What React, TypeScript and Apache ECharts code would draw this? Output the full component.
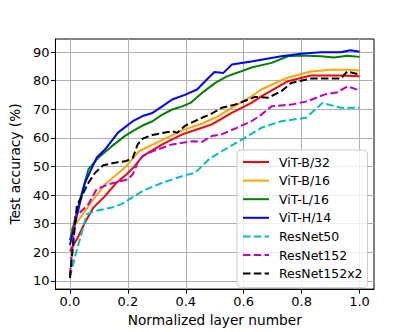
import React, { useEffect, useRef } from "react";
import * as echarts from "echarts";

const seriesNames = ["ViT-B/32", "ViT-B/16", "ViT-L/16", "ViT-H/14", "ResNet50", "ResNet152", "ResNet152x2"];

const vitB32X = [0, 0.024, 0.052, 0.081, 0.121, 0.161, 0.195, 0.223, 0.251, 0.319, 0.388, 0.456, 0.49, 0.559, 0.627, 0.661, 0.753, 0.832, 0.935, 1.0];
const vitB32Y = [20.3, 24.5, 30.4, 35.6, 39.6, 44.3, 47.2, 50.0, 53.6, 57.7, 61.2, 63.5, 64.7, 68.7, 72.2, 74.5, 79.8, 81.8, 81.8, 81.5];

const vitB16X = [0, 0.041, 0.081, 0.121, 0.161, 0.189, 0.239, 0.319, 0.388, 0.456, 0.502, 0.559, 0.627, 0.661, 0.747, 0.832, 0.901, 0.958, 1.0];
const vitB16Y = [27.5, 32.7, 38.5, 43.7, 47.2, 49.5, 55.3, 59.3, 62.6, 65.0, 67.0, 70.5, 74.5, 76.9, 80.9, 83.2, 83.8, 83.8, 83.5];

const vitL16X = [0, 0.035, 0.064, 0.098, 0.144, 0.189, 0.217, 0.251, 0.285, 0.319, 0.353, 0.388, 0.416, 0.456, 0.502, 0.542, 0.582, 0.627, 0.696, 0.753, 0.798, 0.867, 0.912, 0.958, 1.0];
const vitL16Y = [24.3, 38.5, 49.0, 53.0, 57.0, 60.6, 62.3, 64.3, 65.8, 68.1, 69.9, 71.0, 72.2, 75.7, 79.2, 81.5, 82.9, 84.6, 86.2, 88.5, 88.8, 88.5, 88.1, 88.7, 88.3];

const vitH14X = [0, 0.035, 0.052, 0.092, 0.121, 0.166, 0.217, 0.251, 0.285, 0.319, 0.353, 0.399, 0.439, 0.467, 0.499, 0.53, 0.559, 0.627, 0.661, 0.73, 0.798, 0.867, 0.935, 0.969, 1.0];
const vitH14Y = [22.5, 37.4, 44.3, 53.0, 55.9, 61.8, 65.8, 67.6, 68.7, 71.0, 73.4, 75.1, 76.9, 79.8, 83.0, 82.7, 85.6, 86.7, 87.3, 88.5, 89.4, 89.9, 89.9, 90.6, 90.1];

const resnet50X = [0, 0.018, 0.041, 0.058, 0.087, 0.144, 0.178, 0.251, 0.319, 0.388, 0.433, 0.479, 0.524, 0.576, 0.661, 0.73, 0.815, 0.872, 0.935, 1.0];
const resnet50Y = [11.2, 18.7, 26.9, 33.3, 34.4, 35.6, 36.8, 41.4, 44.3, 46.6, 47.8, 52.4, 55.3, 58.3, 63.5, 65.8, 67.0, 72.2, 70.5, 70.5];

const resnet152X = [0, 0.018, 0.029, 0.064, 0.092, 0.132, 0.178, 0.201, 0.217, 0.234, 0.251, 0.285, 0.353, 0.422, 0.456, 0.49, 0.524, 0.576, 0.627, 0.661, 0.696, 0.764, 0.821, 0.878, 0.924, 0.958, 1.0];
const resnet152Y = [12.0, 32.5, 33.3, 36.8, 42.0, 43.7, 44.9, 45.5, 47.2, 51.3, 53.6, 55.3, 57.7, 58.8, 58.6, 60.6, 61.2, 63.5, 65.8, 68.1, 71.0, 71.6, 72.8, 75.1, 75.9, 78.0, 76.6];

const resnet152x2X = [0, 0.024, 0.041, 0.064, 0.087, 0.115, 0.155, 0.195, 0.217, 0.234, 0.251, 0.285, 0.353, 0.371, 0.399, 0.456, 0.49, 0.524, 0.57, 0.627, 0.638, 0.684, 0.73, 0.764, 0.832, 0.878, 0.935, 0.958, 1.0];
const resnet152x2Y = [11.0, 36.2, 39.6, 44.3, 47.8, 50.4, 51.3, 51.9, 53.0, 57.7, 59.7, 61.0, 62.3, 61.8, 64.3, 67.0, 68.5, 70.5, 71.6, 73.8, 74.3, 74.0, 76.3, 79.2, 80.7, 80.7, 80.7, 83.2, 82.1];

const xTicks = [0, 0.2, 0.4, 0.6, 0.8, 1.0];
const yTicks = [10, 20, 30, 40, 50, 60, 70, 80, 90];

const allX = [vitB32X, vitB16X, vitL16X, vitH14X, resnet50X, resnet152X, resnet152x2X];
const allY = [vitB32Y, vitB16Y, vitL16Y, vitH14Y, resnet50Y, resnet152Y, resnet152x2Y];
const colors = ["#ff0000", "#ffa500", "#008000", "#0000ff", "#00bfbf", "#bf00bf", "#000000"];
const dashed = [false, false, false, false, true, true, true];

const FONT = "DejaVu Sans";

export default function App() {
  const ref = useRef<HTMLDivElement>(null);
  useEffect(() => {
    if (!ref.current) return;
    const chart = echarts.init(ref.current, null, { renderer: "svg" });
    const series = seriesNames.map((name, i) => ({
      name,
      type: "line",
      data: allX[i].map((x, j) => [x, allY[i][j]]),
      showSymbol: false,
      symbol: "none",
      lineStyle: {
        color: colors[i],
        width: 2,
        type: dashed[i] ? [7.5, 3.3] : "solid",
      },
      itemStyle: { color: colors[i] },
    }));
    chart.setOption({
      animation: false,
      backgroundColor: "#ffffff",
      textStyle: { fontFamily: FONT },
      grid: {
        left: 52,
        right: 41,
        top: 39,
        bottom: 42,
        show: true,
        borderColor: "#000000",
        borderWidth: 1,
        backgroundColor: "transparent",
      },
      legend: {
        orient: "vertical",
        left: 237,
        top: 150,
        data: seriesNames,
        itemWidth: 26,
        itemHeight: 10,
        itemGap: 4.6,
        padding: [5, 5, 7, 5],
        backgroundColor: "rgba(255,255,255,0.8)",
        borderColor: "#cccccc",
        borderWidth: 1,
        borderRadius: 4,
        itemStyle: { opacity: 0 },
        textStyle: {
          fontFamily: FONT,
          fontSize: 12.5,
          color: "#000000",
          lineHeight: 14,
          padding: [0, 0, 0, 5],
        },
      },
      xAxis: {
        type: "value",
        min: -0.05,
        max: 1.05,
        name: "Normalized layer number",
        nameLocation: "middle",
        nameGap: 23,
        nameTextStyle: { fontFamily: FONT, fontSize: 13.7, color: "#000000" },
        axisLine: { show: true, onZero: false, lineStyle: { color: "#000000", width: 1 } },
        axisTick: { show: true, length: 4.5, customValues: xTicks, lineStyle: { color: "#000000" } },
        axisLabel: {
          customValues: xTicks,
          margin: 6,
          fontFamily: FONT,
          fontSize: 13,
          color: "#000000",
          formatter: (v: number) => v.toFixed(1),
        },
        splitLine: { show: true, lineStyle: { color: "#b0b0b0", width: 1 } },
      },
      yAxis: {
        type: "value",
        min: 7.1,
        max: 94.55,
        name: "Test accuracy (%)",
        nameLocation: "middle",
        nameGap: 30,
        nameTextStyle: { fontFamily: FONT, fontSize: 13.7, color: "#000000" },
        axisLine: { show: true, onZero: false, lineStyle: { color: "#000000", width: 1 } },
        axisTick: { show: true, length: 4.5, customValues: yTicks, lineStyle: { color: "#000000" } },
        axisLabel: {
          customValues: yTicks,
          margin: 6,
          fontFamily: FONT,
          fontSize: 13,
          color: "#000000",
          formatter: (v: number) => String(Math.round(v)),
        },
        splitLine: { show: true, lineStyle: { color: "#b0b0b0", width: 1 } },
      },
      series,
    });
    return () => chart.dispose();
  }, []);
  return <div ref={ref} style={{ width: 415, height: 332, position: "absolute", left: 0, top: 0 }} />;
}
